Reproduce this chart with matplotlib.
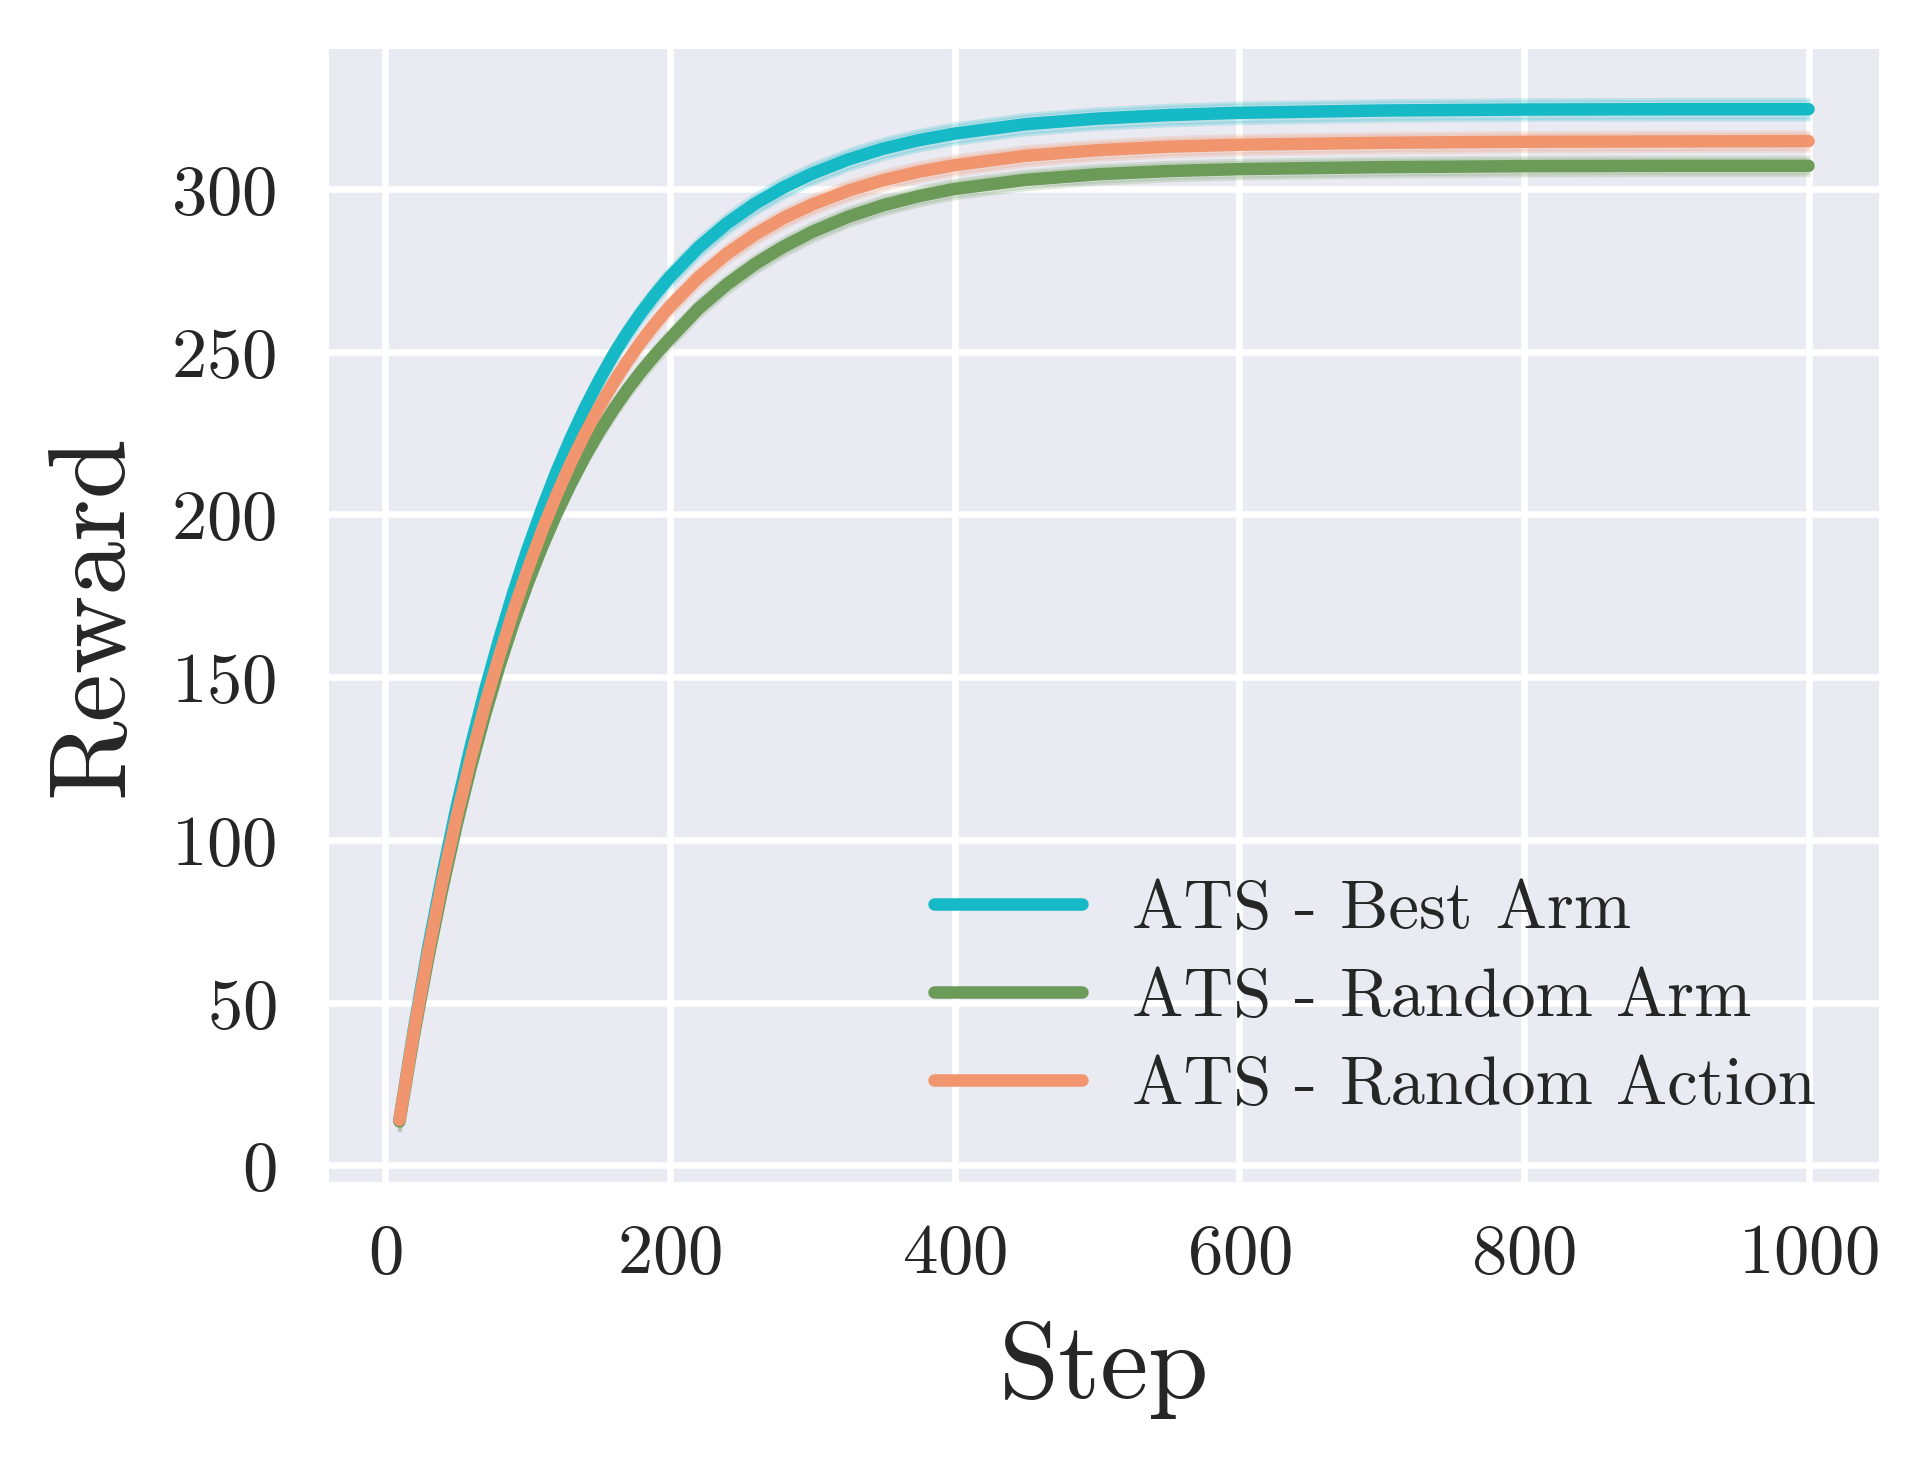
import numpy as np
import matplotlib
matplotlib.use("Agg")
import matplotlib.pyplot as plt

# ---- data ----
steps = [10, 20, 30, 40, 50, 60, 70, 80, 90, 100, 110, 120, 130, 140, 150, 160,
         170, 180, 190, 200, 220, 240, 260, 280, 300, 325, 350, 375, 400,
         450, 500, 550, 600, 700, 800, 900, 1000]

best_arm = [14, 41.5, 66.5, 89, 109.8, 128.6, 145.8, 161.5, 176, 189.3, 201.5,
            212.8, 223.1, 232.5, 241, 248.8, 255.8, 262.1, 267.8, 273, 282,
            289.4, 295.5, 300.5, 304.7, 309, 312.4, 315, 317, 319.9, 321.6,
            322.7, 323.4, 324.1, 324.4, 324.5, 324.5]

random_arm = [13.5, 39.5, 63.2, 84.7, 104.3, 122.1, 138.3, 153.1, 166.5, 178.7,
              189.8, 199.9, 209.1, 217.5, 225.1, 232, 238.3, 244, 249.2, 254,
              263.2, 270.7, 277, 282.3, 286.8, 291.4, 295, 297.8, 300, 302.8,
              304.5, 305.5, 306.1, 306.7, 307, 307.1, 307.1]

random_action = [14, 40.8, 65, 87, 106.8, 124.8, 141.3, 156.4, 170.3, 183,
                 194.8, 205.6, 215.5, 224.5, 232.7, 240.2, 247, 253.2, 258.8,
                 263.9, 272.8, 280.1, 286.1, 291.1, 295.2, 299.4, 302.7, 305.3,
                 307.3, 310.2, 311.9, 313, 313.6, 314.2, 314.5, 314.6, 314.7]

# half-width of the shaded band for each series
band_best = 3.0
band_arm = 2.7
band_action = 2.8

labels = ["ATS - Best Arm", "ATS - Random Arm", "ATS - Random Action"]
colors = ["#16B9C6", "#6B9A59", "#F0956D"]

x_ticks = [0, 200, 400, 600, 800, 1000]
y_ticks = [0, 50, 100, 150, 200, 250, 300]

# ---- style ----
plt.rcParams.update({
    "font.family": ["cmr10", "DejaVu Serif"],
    "mathtext.fontset": "cm",
    "axes.formatter.use_mathtext": True,
    "axes.facecolor": "#EAEAF2",
    "axes.edgecolor": "white",
    "axes.grid": True,
    "grid.color": "white",
    "grid.linewidth": 1.6,
    "text.color": "#262626",
    "axes.labelcolor": "#262626",
    "xtick.color": "#262626",
    "ytick.color": "#262626",
    "lines.solid_capstyle": "round",
})

fig = plt.figure(figsize=(1928 / 300, 1468 / 300), dpi=300)
ax = fig.add_axes([0.17064, 0.19482, 0.80394, 0.77180])
ax.set_axisbelow(True)
for s in ax.spines.values():
    s.set_visible(False)

x = np.array(steps, dtype=float)
series = [np.array(best_arm), np.array(random_arm), np.array(random_action)]
bands = [band_best, band_arm, band_action]

for y, b, c, lab in zip(series, bands, colors, labels):
    ax.fill_between(x, y - b, y + b, color=c, alpha=0.2, linewidth=1.0)
    ax.plot(x, y, color=c, linewidth=3.0, label=lab)

ax.set_xlim(-39.5, 1049.5)
ax.set_ylim(-5.1, 343.0)
ax.set_xticks(x_ticks)
ax.set_yticks(y_ticks)
ax.tick_params(axis="x", which="both", length=0, labelsize=17, pad=10)
ax.tick_params(axis="y", which="both", length=0, labelsize=17, pad=12.6)

ax.set_xlabel("Step", fontsize=26, labelpad=8)
ax.set_ylabel("Reward", fontsize=26, labelpad=7)

leg = ax.legend(loc="lower right", frameon=False, fontsize=16.5,
                handlelength=2.15, handletextpad=0.72, labelspacing=0.39,
                bbox_to_anchor=(0.999, 0.003))

fig.savefig("out.png", dpi=300)
